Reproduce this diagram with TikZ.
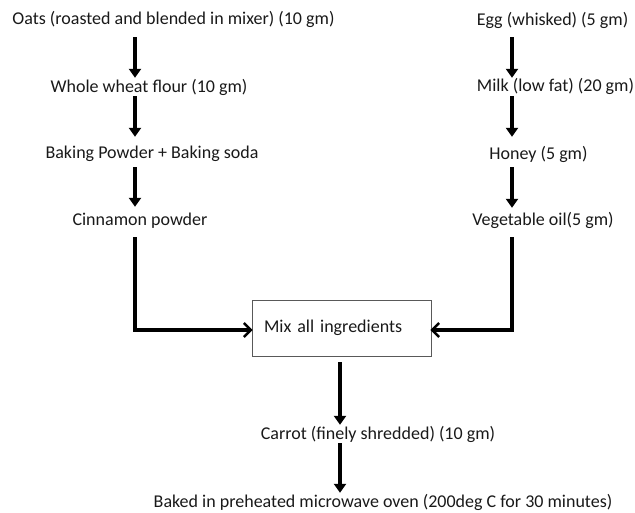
\documentclass[tikz,border=0pt]{standalone}
\usepackage{fontspec}
\setmainfont{Carlito}
\usetikzlibrary{arrows.meta}
\begin{document}
\begin{tikzpicture}[x=1pt,y=1pt,
  lbl/.style={anchor=base,inner sep=0pt,text height=12.5pt,text depth=4pt,
    font=\fontsize{18}{21}\selectfont,text=black!90},
  mixbox/.style={draw=black!65,line width=0.9pt,minimum width=179pt,minimum height=56pt,
    inner xsep=12pt,text width=155pt,align=left,
    font=\fontsize{18}{21}\selectfont,text=black!90},
  flow/.style={line width=3.2pt,-{Triangle[length=9pt,width=12pt]}},
  joinarrow/.style={line width=3.2pt,-{Straight Barb[length=7pt,width=14pt,line width=2.4pt]}}]
\useasboundingbox (0,0) rectangle (635,512);
\coordinate (lx) at (135,0);
\coordinate (rx) at (512,0);
\coordinate (mx) at (340,0);
% left column
\node[lbl] (oats) at (173.5,487) {Oats (roasted and blended in mixer) (10 gm)};
\node[lbl] (wheat) at (149,419.5) {Whole wheat flour (10 gm)};
\node[lbl] (bake) at (152,353) {Baking Powder + Baking soda};
\node[lbl] (cin) at (140,286) {Cinnamon powder};
% right column
\node[lbl] (egg) at (552.5,486) {Egg (whisked) (5 gm)};
\node[lbl] (milk) at (555.5,420) {Milk (low fat) (20 gm)};
\node[lbl] (honey) at (538.5,352) {Honey (5 gm)};
\node[lbl] (veg) at (543,286) {Vegetable oil(5 gm)};
% mix box
\node[mixbox] (mix) at (341.5,184) {Mix all ingredients};
\node[lbl] (carrot) at (378,73) {Carrot (finely shredded) (10 gm)};
\node[lbl] (baked) at (383,5) {Baked in preheated microwave oven (200deg C for 30 minutes)};
% arrows left
\draw[flow,shorten <=8pt,shorten >=2pt] (oats.south -| lx) -- (wheat.north -| lx);
\draw[flow,shorten <=-0.5pt,shorten >=9.5pt] (wheat.south -| lx) -- (bake.north -| lx);
\draw[flow,shorten <=4pt,shorten >=6.5pt] (bake.south -| lx) -- (cin.north -| lx);
\draw[joinarrow,shorten <=7pt,shorten >=-1pt] (cin.south -| lx) |- ([yshift=-2pt]mix.west);
% arrows right
\draw[flow,shorten <=7pt,shorten >=1.5pt] (egg.south -| rx) -- (milk.north -| rx);
\draw[flow,shorten <=0pt,shorten >=10.5pt] (milk.south -| rx) -- (honey.north -| rx);
\draw[flow,shorten <=3pt,shorten >=5.5pt] (honey.south -| rx) -- (veg.north -| rx);
\draw[joinarrow,shorten <=7pt,shorten >=-1pt] (veg.south -| rx) |- ([yshift=-2pt]mix.east);
% bottom
\draw[flow,shorten <=6pt,shorten >=1.5pt] (mix.south -| mx) -- (carrot.north -| mx);
\draw[flow,shorten <=0pt,shorten >=1.5pt] (carrot.south -| mx) -- (baked.north -| mx);
\end{tikzpicture}
\end{document}
